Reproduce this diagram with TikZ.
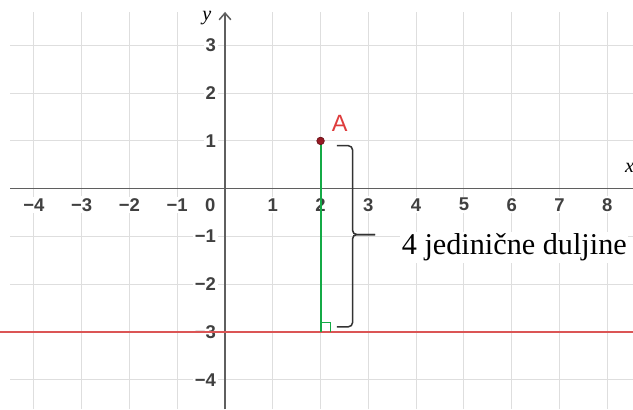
\documentclass[tikz,border=0pt]{standalone}
\usepackage{fontspec}
\setmainfont{Liberation Serif}
\newfontfamily\ggbfont{Liberation Sans}
\usetikzlibrary{positioning, arrows.meta}

\definecolor{gridgray}{RGB}{222,222,222}
\definecolor{axisgray}{RGB}{95,95,95}
\definecolor{linered}{RGB}{219,85,85}
\definecolor{seggreen}{RGB}{20,170,70}
\definecolor{pointred}{RGB}{150,25,35}
\definecolor{labelred}{RGB}{222,60,60}

% tick label: real minus sign for negative values
\newcommand{\tickval}[1]{\ifnum#1<0 −\number\numexpr-#1\relax\else#1\fi}

\begin{document}
\begin{tikzpicture}[
    % Style for the light background grid
    gridline/.style = {gridgray, line width=0.6pt},
    % Style for the two axes
    axis/.style = {axisgray, line width=0.9pt},
    % Style for the numbers on the axes (white box hides the grid)
    tick/.style = {font=\ggbfont\bfseries\fontsize{11}{13}\selectfont, text=black!75, fill=white, inner sep=1pt},
    axislabel/.style = {font=\itshape\fontsize{12}{14}\selectfont, inner sep=0pt},
    ptdot/.style = {circle, fill=pointred, draw=pointred!70!black, line width=0.4pt, inner sep=0pt, minimum size=4.5pt},
    seg/.style = {seggreen, line width=1.2pt},
    bracket/.style = {black!80, line width=0.9pt, rounded corners=2.5pt},
    note/.style = {font=\fontsize{18}{22}\selectfont, fill=white, inner sep=1pt}
]
    \useasboundingbox (-4.71,-4.62) rectangle (8.54,3.95);

    % --- GRID ---
    \foreach \x in {-4,...,8} {
        \draw[gridline] (\x,-4.62) -- (\x,3.70);
    }
    \foreach \y in {-4,...,3} {
        \draw[gridline] (-4.50,\y) -- (8.54,\y);
    }

    % --- AXES ---
    \coordinate (xstart) at (-4.50,0);
    \coordinate (xend) at (8.54,0);
    \coordinate (ystart) at (0,-4.62);
    \coordinate (yend) at (0,3.70);
    \draw[axis] (xstart) -- (xend);
    \draw[axis, -{Straight Barb[length=4pt, width=7pt]}] (ystart) -- (yend);
    \node[axislabel] (xname) at (8.47,0.44) {x};
    \node[axislabel] (yname) at (-0.38,3.58) {y};

    % --- TICK LABELS ---
    \foreach \x [count=\i] in {-4,-3,-2,-1,1,2,3,4,5,6,7,8} {
        \node[tick] (xt\i) at (\x,-0.335) {\tickval{\x}};
    }
    \node[tick] (zero) at (-0.31,-0.335) {0};
    \foreach \y [count=\i] in {-4,-3,-2,-1,1,2,3} {
        \node[tick, anchor=east] (yt\i) at (-0.15,\y) {\tickval{\y}};
    }

    % --- LINE y = -3 ---
    \coordinate (redL) at (-4.71,-3);
    \coordinate (redR) at (8.54,-3);
    \draw[linered, line width=1.2pt] (redL) -- (redR);

    % --- DISTANCE FROM A TO THE LINE ---
    \coordinate (foot) at (2,-3);
    \draw[seg] (2,1) -- (foot);
    \draw[seggreen, line width=0.7pt] (2,-2.8) -| (2.2,-3);
    \node[ptdot] (A) at (2,1) {};
    \node[font=\ggbfont\fontsize{14}{16}\selectfont, text=labelred] (Alabel) at (2.40,1.36) {A};

    % --- BRACE AND TEXT ---
    \coordinate (btop) at (2.34,0.90);
    \coordinate (bbot) at (2.34,-2.89);
    \coordinate (bmid) at (2.67,-0.96);
    \coordinate (btip) at (3.14,-0.96);
    \draw[bracket] (btop) -| (bmid) -- (btip);
    \draw[bracket] (bbot) -| (bmid) -- (btip);
    \node[note, anchor=base west] (caption) at (3.66,-1.38) {4 jedinične duljine};

\end{tikzpicture}
\end{document}
